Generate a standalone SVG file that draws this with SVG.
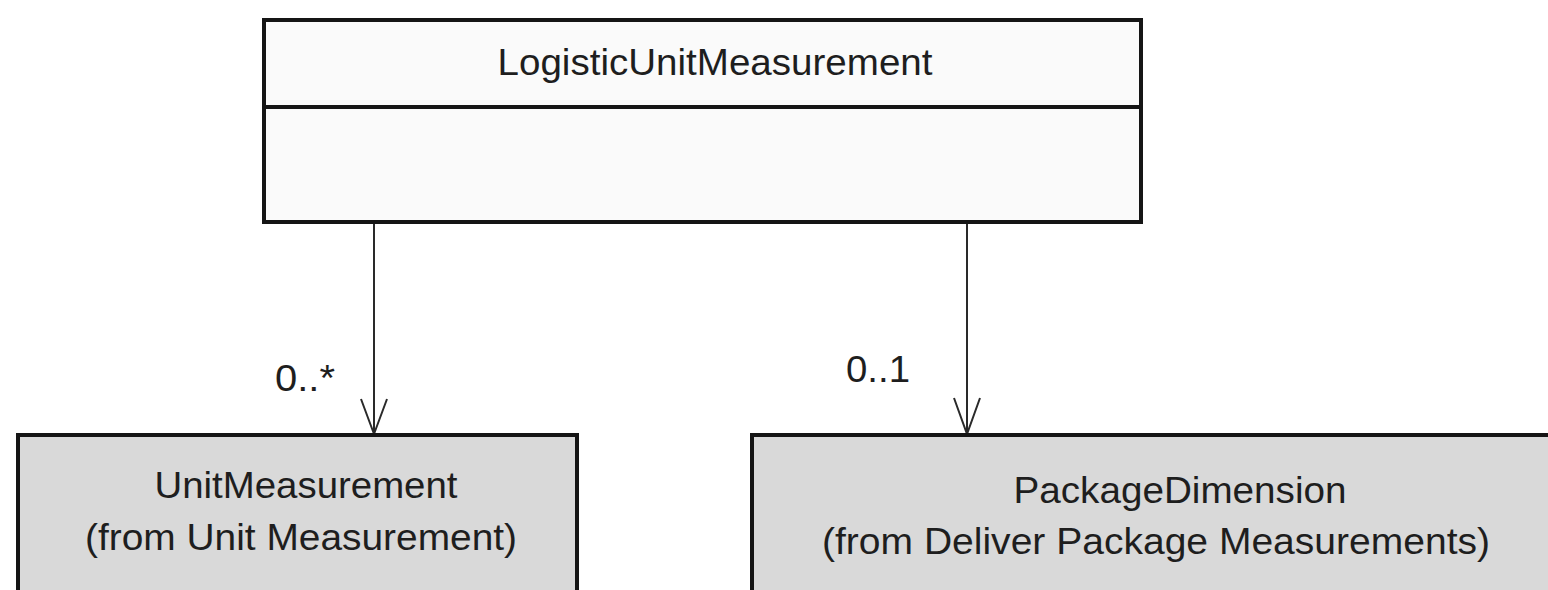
<svg xmlns="http://www.w3.org/2000/svg" width="1548" height="590" viewBox="0 0 1548 590">
<defs>
<style>
.box{stroke:#151515;stroke-width:4}
.top{fill:#fafafa}
.ext{fill:#d9d9d9}
.t{font-family:"Liberation Sans",Arial,sans-serif;font-size:37px;fill:#1e1e1e}
.c{text-anchor:middle}
.conn{stroke:#2a2a2a;stroke-width:2;fill:none}
</style>
</defs>
<rect width="1548" height="590" fill="#ffffff"/>
<g id="connectors">
<line class="conn" x1="374" y1="222" x2="374" y2="434"/>
<polyline class="conn" points="361,399 374,434 387,399"/>
<line class="conn" x1="967" y1="222" x2="967" y2="434"/>
<polyline class="conn" points="954,398 967,434 980,398"/>
<text class="t" x="275" y="391" textLength="60" lengthAdjust="spacingAndGlyphs">0..*</text>
<text class="t" x="846" y="382" textLength="64" lengthAdjust="spacingAndGlyphs">0..1</text>
</g>
<g id="LogisticUnitMeasurement">
<rect class="box top" x="264" y="20" width="877" height="202"/>
<line class="box" x1="264" y1="107" x2="1141" y2="107"/>
<text class="t c" x="715" y="75" textLength="435" lengthAdjust="spacingAndGlyphs">LogisticUnitMeasurement</text>
</g>
<g id="UnitMeasurement">
<rect class="box ext" x="18" y="435" width="559" height="180"/>
<text class="t c" x="306" y="498" textLength="303" lengthAdjust="spacingAndGlyphs">UnitMeasurement</text>
<text class="t c" x="301" y="550" textLength="432" lengthAdjust="spacingAndGlyphs">(from Unit Measurement)</text>
</g>
<g id="PackageDimension">
<rect class="box ext" x="752" y="435" width="800" height="180"/>
<text class="t c" x="1180" y="503" textLength="333" lengthAdjust="spacingAndGlyphs">PackageDimension</text>
<text class="t c" x="1156" y="554" textLength="668" lengthAdjust="spacingAndGlyphs">(from Deliver Package Measurements)</text>
</g>
</svg>
